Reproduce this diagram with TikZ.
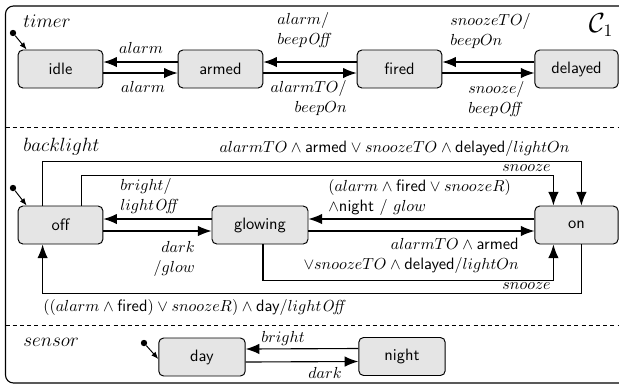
\documentclass[tikz,border=0pt]{standalone}
\usetikzlibrary{arrows.meta,calc}
\begin{document}
\begin{tikzpicture}[x=0.625pt,y=-0.625pt,
  state/.style={draw, line width=0.6pt, fill=black!10, rounded corners=3pt,
    minimum width=53pt, minimum height=23.75pt, inner sep=0pt,
    font=\sffamily\fontsize{10.3}{12}\selectfont},
  tr/.style={line width=0.7pt, -{Latex[length=8.5pt,width=6.5pt]}},
  initarr/.style={line width=0.6pt, -{Latex[length=4.5pt,width=3.5pt]}},
  initdot/.style={circle, fill, inner sep=0pt, minimum size=4pt},
  lbl/.style={inner sep=0pt, font=\fontsize{10.3}{12.5}\selectfont},
  region/.style={inner sep=0pt, font=\fontsize{12}{14}\selectfont},
  sep/.style={dashed, line width=0.6pt, dash pattern=on 2.5pt off 2pt},
]
\useasboundingbox (0,0) rectangle (619,385);
\clip (0,0) rectangle (619,385);
\fill[white] (0,0) rectangle (619,385);

% frame and separators
\draw[line width=0.7pt, rounded corners=5pt] (5.5,6) rectangle (660,383);
\draw[sep] (5.5,127) -- (619,127);
\draw[sep] (5.5,325) -- (619,325);

% ---------------- timer ----------------
\node[region, anchor=west] (ttimer) at (23,21) {$timer$};
\node[inner sep=0pt, font=\fontsize{16}{18}\selectfont] (c1) at (601,25) {$\mathcal{C}_1$};

\node[state] (idle) at (60.5,69) {idle};
\node[state] (armed) at (220.5,69) {armed};
\node[state] (fired) at (399.5,69) {fired};
\node[state, minimum width=52pt] (delayed) at (576.5,69) {delayed};

\node[initdot] (i1) at (13,33) {};
\draw[initarr] (i1) -- ($(idle.north west)+(9,0)$);

\draw[tr] ($(armed.west)+(0,-7)$) -- ($(idle.east)+(0,-7)$);
\draw[tr] ($(idle.east)+(0,4)$) -- ($(armed.west)+(0,4)$);
\draw[tr] ($(fired.west)+(0,-7)$) -- ($(armed.east)+(0,-7)$);
\draw[tr] ($(armed.east)+(0,4)$) -- ($(fired.west)+(0,4)$);
\draw[tr] ($(delayed.west)+(0,-7)$) -- ($(fired.east)+(0,-7)$);
\draw[tr] ($(fired.east)+(0,4)$) -- ($(delayed.west)+(0,4)$);

\node[lbl] (la1) at (141,48) {$alarm$};
\node[lbl] (la2) at (143,87) {$alarm$};
\node[lbl, anchor=west, align=left] (la3) at (277,30) {$alarm/$\\$beep\mathit{Off}$};
\node[lbl, anchor=east, align=right] (la4) at (347,98) {$alarmTO/$\\$beepOn$};
\node[lbl, anchor=west, align=left] (la5) at (450,31) {$snoozeTO/$\\$beepOn$};
\node[lbl, anchor=west, align=left] (la6) at (468,99) {$snooze/$\\$beep\mathit{Off}$};

% ---------------- backlight ----------------
\node[region, anchor=west] (tback) at (23,147) {$backlight$};

\node[state] (off) at (60.5,225) {off};
\node[state, minimum width=60pt] (glowing) at (260,225) {glowing};
\node[state, minimum width=52pt] (on) at (576.5,225) {on};

\node[initdot] (i2) at (13,188) {};
\draw[initarr] (i2) -- ($(off.north west)+(9,0)$);

\draw[tr] ($(glowing.west)+(0,-6)$) -- ($(off.east)+(0,-6)$);
\draw[tr] ($(off.east)+(0,6)$) -- ($(glowing.west)+(0,6)$);
\draw[tr] ($(on.west)+(0,-6)$) -- ($(glowing.east)+(0,-6)$);
\draw[tr] ($(glowing.east)+(0,6)$) -- ($(on.west)+(0,6)$);

\draw[tr] ($(off.north west)+(25,0)$) -- ++(0,-44) -| ($(on.north west)+(47,0)$);
\draw[tr] ($(off.north west)+(64,0)$) -- ++(0,-30) -| ($(on.north west)+(19,0)$);
\draw[tr] ($(glowing.south)+(3,0)$) -- ++(0,36) -| ($(on.south west)+(19,0)$);
\draw[tr] ($(on.south west)+(47,0)$) -- ++(0,49) -| ($(off.south west)+(25,0)$);

\node[lbl] (lb1) at (394.5,148) {$alarmTO\wedge\textsf{armed}\vee snoozeTO\wedge\textsf{delayed}/lightOn$};
\node[lbl, anchor=east] (lb2) at (551,168) {$snooze$};
\node[lbl, anchor=west, align=left] (lb3) at (328,197.5) {$(alarm\wedge\textsf{fired}\vee snoozeR)$\\$\wedge\textsf{night}\ /\ glow$};
\node[lbl, anchor=west, align=left] (lb4) at (120,196.5) {$bright/$\\$light\mathit{Off}$};
\node[lbl, anchor=east, align=right] (lb5) at (195,259) {$dark$\\$/glow$};
\node[lbl, anchor=east, align=right] (lb6) at (519,256) {$alarmTO\wedge\textsf{armed}$\\$\vee snoozeTO\wedge\textsf{delayed}/lightOn$};
\node[lbl, anchor=east] (lb7) at (551,286) {$snooze$};
\node[lbl, anchor=west] (lb8) at (43,307) {$((alarm\wedge\textsf{fired})\vee snoozeR)\wedge\textsf{day}/light\mathit{Off}$};

% ---------------- sensor ----------------
\node[region, anchor=west] (tsens) at (23,342) {$sensor$};

\node[state, minimum width=54pt] (day) at (202,357) {day};
\node[state, minimum width=54pt] (night) at (402,356.5) {night};

\node[initdot] (i3) at (144,343) {};
\draw[initarr] (i3) -- ($(day.west)+(0,2)$);

\draw[tr] ($(night.west)+(0,-8)$) -- ($(day.east)+(0,-8)$);
\draw[tr] ($(day.east)+(0,5)$) -- ($(night.west)+(0,5)$);

\node[lbl] (ls1) at (283,338) {$bright$};
\node[lbl] (ls2) at (325,373) {$dark$};
\end{tikzpicture}
\end{document}
